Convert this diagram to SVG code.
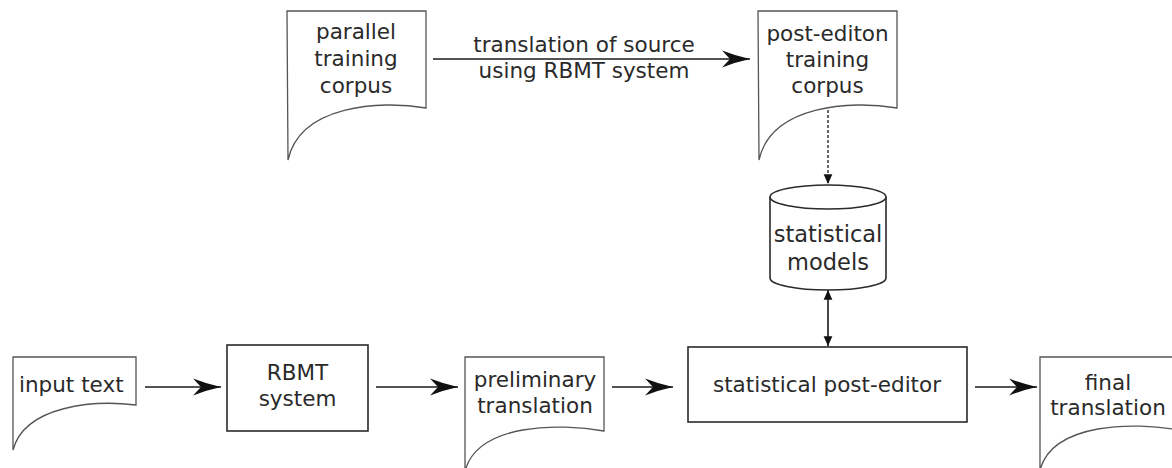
<svg xmlns="http://www.w3.org/2000/svg" width="1172" height="468" viewBox="0 0 1172 468">
  <style>
    .doc { fill: #ffffff; stroke: #555555; stroke-width: 1.3; }
    .box { fill: #ffffff; stroke: #2a2a2a; stroke-width: 1.6; }
    .label { font-family: "DejaVu Sans", "Liberation Sans", sans-serif; font-size: 21.5px; fill: #2a2a2a; text-anchor: middle; }
    .flow { fill: none; stroke: #1a1a1a; stroke-width: 1.6; }
    .dashed { fill: none; stroke: #1a1a1a; stroke-width: 1.3; stroke-dasharray: 3 2; }
  </style>
  <defs>
    <!-- barbed arrowhead for the main flow -->
    <marker id="barb" markerUnits="userSpaceOnUse" markerWidth="32" markerHeight="22" viewBox="-30 -11 32 22" refX="0" refY="0" orient="auto">
      <path d="M0,0 Q-14,-3 -28,-8.5 L-20,0 L-28,8.5 Q-14,3 0,0 Z" fill="#111111"/>
    </marker>
    <!-- small filled triangles for the model links -->
    <marker id="tri" markerUnits="userSpaceOnUse" markerWidth="12" markerHeight="12" viewBox="-10 -5 11 10" refX="0" refY="0" orient="auto">
      <path d="M0,0 L-9,-4 L-9,4 Z" fill="#111111"/>
    </marker>
    <marker id="triStart" markerUnits="userSpaceOnUse" markerWidth="12" markerHeight="12" viewBox="-1 -5 11 10" refX="0" refY="0" orient="auto">
      <path d="M0,0 L9,-4 L9,4 Z" fill="#111111"/>
    </marker>
  </defs>

  <g id="connectors">
    <line class="flow" x1="433" y1="59" x2="750" y2="59" marker-end="url(#barb)"/>
    <line class="flow" x1="145" y1="387" x2="221" y2="387" marker-end="url(#barb)"/>
    <line class="flow" x1="376" y1="387" x2="458" y2="387" marker-end="url(#barb)"/>
    <line class="flow" x1="612" y1="387" x2="673" y2="387" marker-end="url(#barb)"/>
    <line class="flow" x1="975" y1="387" x2="1037" y2="387" marker-end="url(#barb)"/>
    <line class="dashed" x1="828" y1="110" x2="828" y2="184" marker-end="url(#tri)"/>
    <line class="flow" x1="828" y1="290" x2="828" y2="346" stroke-width="1.4" marker-start="url(#triStart)" marker-end="url(#tri)"/>
    <text class="label" x="584" y="52">translation of source</text>
    <text class="label" x="584" y="78">using RBMT system</text>
  </g>

  <g id="parallel-corpus">
    <path class="doc" d="M287,11 L426,11 L426,108 C380,100 300,105 288,160 Z"/>
    <text class="label" x="356" y="39">parallel</text>
    <text class="label" x="356" y="66">training</text>
    <text class="label" x="356" y="93">corpus</text>
  </g>

  <g id="post-edition-corpus">
    <path class="doc" d="M758,11 L897,11 L897,108 C851,100 771,105 759,160 Z"/>
    <text class="label" x="827.5" y="41">post-editon</text>
    <text class="label" x="827.5" y="67">training</text>
    <text class="label" x="827.5" y="93">corpus</text>
  </g>

  <g id="statistical-models">
    <path class="box" d="M770,197 L770,278 A58,12 0 0 0 886,278 L886,197"/>
    <ellipse class="box" cx="828" cy="197" rx="58" ry="12"/>
    <text class="label" x="828" y="242" style="font-size:22.5px">statistical</text>
    <text class="label" x="828" y="270" style="font-size:22.5px">models</text>
  </g>

  <g id="input-text">
    <path class="doc" d="M13,357 L136,357 L136,405 C95,400 25,405 13,450 Z"/>
    <text class="label" x="19" y="392" style="text-anchor:start">input text</text>
  </g>

  <g id="rbmt-system">
    <rect class="box" x="227" y="345" width="141" height="86"/>
    <text class="label" x="297.5" y="380">RBMT</text>
    <text class="label" x="297.5" y="406">system</text>
  </g>

  <g id="preliminary-translation">
    <path class="doc" d="M465,357 L604,357 L604,431 C560,423 478,423 465,471 Z"/>
    <text class="label" x="535" y="387">preliminary</text>
    <text class="label" x="535" y="413">translation</text>
  </g>

  <g id="statistical-post-editor">
    <rect class="box" x="688" y="347" width="279" height="75"/>
    <text class="label" x="827" y="392">statistical post-editor</text>
  </g>

  <g id="final-translation">
    <path class="doc" d="M1040,357 L1179,357 L1179,430 C1135,422 1053,422 1040,470 Z"/>
    <text class="label" x="1108" y="390">final</text>
    <text class="label" x="1108" y="415">translation</text>
  </g>
</svg>
